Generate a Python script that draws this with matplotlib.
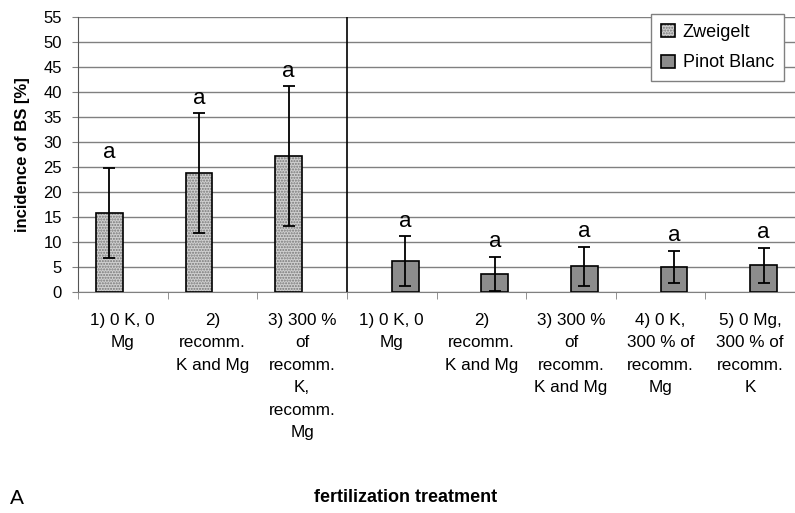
import numpy as np
import matplotlib.pyplot as plt
from matplotlib.patches import Patch
from matplotlib.legend_handler import HandlerTuple

plt.rcParams['font.family'] = ['Liberation Sans', 'DejaVu Sans']

# data
z_labels = ['1) 0 K, 0\nMg', '2)\nrecomm.\nK and Mg',
            '3) 300 %\nof\nrecomm.\nK,\nrecomm.\nMg']
p_labels = ['1) 0 K, 0\nMg', '2)\nrecomm.\nK and Mg',
            '3) 300 %\nof\nrecomm.\nK and Mg', '4) 0 K,\n300 % of\nrecomm.\nMg',
            '5) 0 Mg,\n300 % of\nrecomm.\nK']
z_mean = [15.9, 23.8, 27.2]
z_err = [9.0, 12.0, 14.0]
p_mean = [6.2, 3.7, 5.2, 5.1, 5.4]
p_err = [5.0, 3.4, 3.9, 3.2, 3.5]
letters_z = ['a', 'a', 'a']
letters_p = ['a', 'a', 'a', 'a', 'a']

z_face = '#d0d0d0'
p_face = '#8c8c8c'
w = 0.3

fig = plt.figure(figsize=(7.95, 5.13), dpi=100)
ax = fig.add_axes([78 / 795, 1 - 292 / 513, 1 - 78 / 795, 275 / 513])

xz = np.arange(len(z_mean)) - w / 2
xp = np.arange(len(z_mean), len(z_mean) + len(p_mean)) + w / 2

# Zweigelt bars: stipple fill then black outline
ax.bar(xz, z_mean, w, color=z_face, edgecolor='#777777', hatch='......', lw=0, zorder=3)
ax.bar(xz, z_mean, w, fill=False, edgecolor='black', lw=1.2, zorder=4)
ax.bar(xp, p_mean, w, color=p_face, edgecolor='black', lw=1.2, zorder=3)

ax.errorbar(xz, z_mean, yerr=z_err, fmt='none', ecolor='black', elinewidth=1.3,
            capsize=4.5, capthick=1.3, zorder=5)
ax.errorbar(xp, p_mean, yerr=p_err, fmt='none', ecolor='black', elinewidth=1.3,
            capsize=4.5, capthick=1.3, zorder=5)

for x, m, e, t in zip(list(xz) + list(xp), z_mean + p_mean, z_err + p_err,
                      letters_z + letters_p):
    ax.annotate(t, (x, m + e), xytext=(0, 3), textcoords='offset points',
                ha='center', va='bottom', fontsize=16)

ax.axvline(2.5, color='black', lw=1.2, zorder=2)

ax.set_xlim(-0.5, 7.5)
ax.set_ylim(0, 55)
ax.set_yticks(np.arange(0, 56, 5))
ax.yaxis.grid(True, color='#808080', lw=1)
ax.set_axisbelow(True)
ax.tick_params(axis='y', labelsize=12, length=4.5, color='#808080', pad=7)

ax.set_xticks(np.arange(8))
ax.set_xticklabels(z_labels + p_labels, fontsize=12.3, linespacing=1.62, va='top')
ax.set_xticks(np.arange(-0.5, 8, 1), minor=True)
ax.tick_params(axis='x', which='major', length=0, pad=15)
ax.tick_params(axis='x', which='minor', length=5, color='#808080')

for s in ['top', 'right']:
    ax.spines[s].set_visible(False)
ax.spines['left'].set_color('#555555')
ax.spines['bottom'].set_color('#808080')

ax.set_ylabel('incidence of BS [%]', fontsize=12, fontweight='bold', labelpad=10)

hz = (Patch(facecolor=z_face, edgecolor='#777777', hatch='......', lw=0),
      Patch(fill=False, edgecolor='black', lw=1.2))
hp = Patch(facecolor=p_face, edgecolor='black', lw=1.2)
leg = ax.legend([hz, hp], ['Zweigelt', 'Pinot Blanc'],
                handler_map={tuple: HandlerTuple(ndivide=1, pad=0)},
                loc='upper right', bbox_to_anchor=(784 / 795, 1 - 14 / 513),
                bbox_transform=fig.transFigure, borderaxespad=0, fontsize=13,
                fancybox=False, edgecolor='#808080', handlelength=0.75,
                handleheight=0.75, handletextpad=0.45, labelspacing=0.75,
                borderpad=0.55, framealpha=1)
leg.get_frame().set_linewidth(1)

fig.text(10 / 795, 1 - 498 / 513, 'A', fontsize=15, va='center')
fig.text(406 / 795, 1 - 498 / 513, 'fertilization treatment', fontsize=13,
         fontweight='bold', va='center', ha='center')

fig.savefig('out.png', dpi=100)
